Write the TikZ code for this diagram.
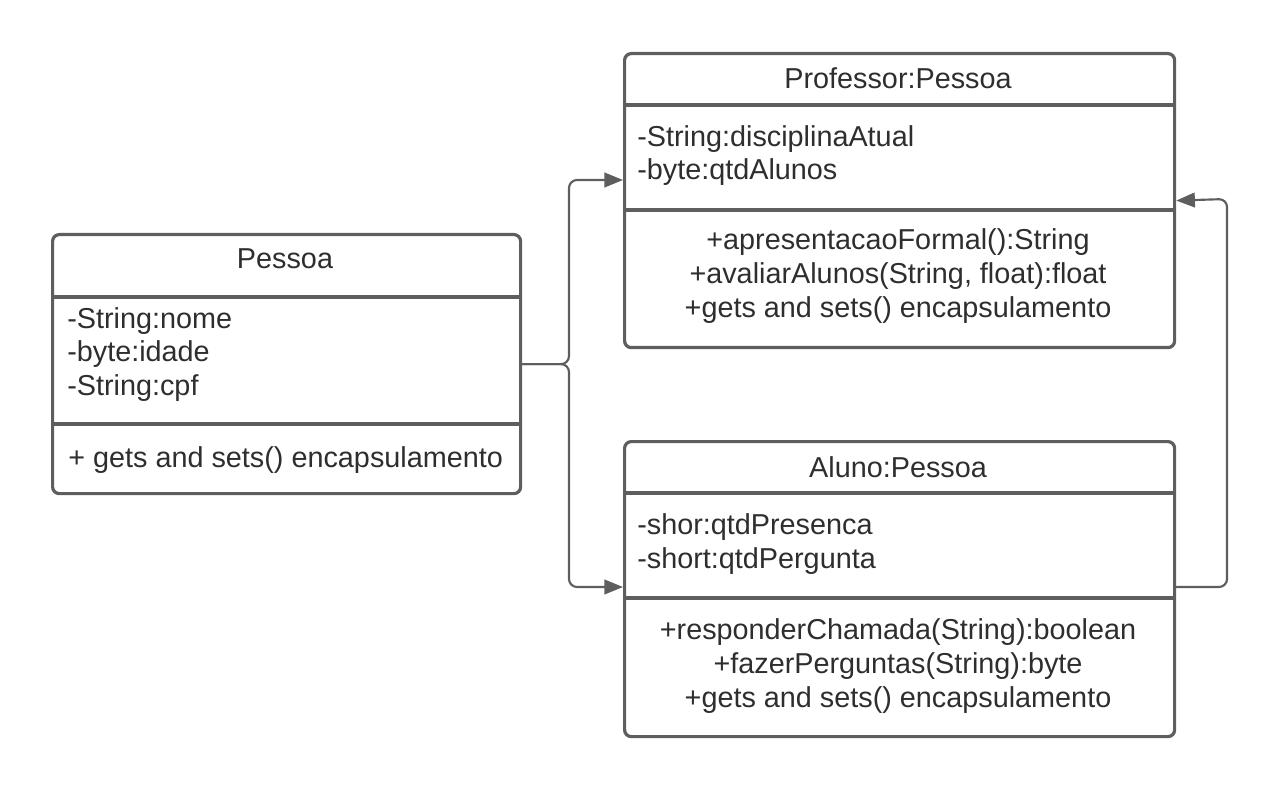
\documentclass[tikz,border=0pt]{standalone}
\usepackage{fontspec}
\setmainfont{Liberation Sans}
\usetikzlibrary{arrows.meta}
\definecolor{ln}{HTML}{5E5E5E}
\definecolor{tx}{HTML}{2E2E2E}
\begin{document}
\begin{tikzpicture}[x=0.75pt,y=-0.75pt,
  box/.style={draw=ln,line width=2.4pt,rounded corners=5pt,anchor=north west,inner sep=0pt},
  sep/.style={draw=ln,line width=2.4pt},
  txt/.style={text=tx,font=\fontsize{21.6}{26}\selectfont,inner sep=0pt},
  lt/.style={txt,anchor=west},
  ct/.style={txt,anchor=center},
  conn/.style={draw=ln,line width=1.6pt,rounded corners=6pt,-{Triangle[length=14pt,width=11pt]}}]
\useasboundingbox (0,0) rectangle (1280,787);
% Pessoa
\node[box,minimum width=351pt,minimum height=194.25pt] (pessoa) at (51,233) {};
\draw[sep] (51,297) -- (519,297);
\draw[sep] (51,424) -- (519,424);
\node[ct] (pt) at (285,259) {Pessoa};
\node[lt] (pa1) at (67,321) {-String:nome};
\node[lt] (pa2) at (67,354) {-byte:idade};
\node[lt] (pa3) at (67,388) {-String:cpf};
\node[lt] (pm1) at (68,460) {+ gets and sets() encapsulamento};
% Professor
\node[box,minimum width=412.5pt,minimum height=220.5pt] (prof) at (623,52) {};
\draw[sep] (623,105) -- (1173,105);
\draw[sep] (623,210) -- (1173,210);
\node[ct] (prt) at (898,78) {Professor:Pessoa};
\node[lt] (pra1) at (637,139) {-String:disciplinaAtual};
\node[lt] (pra2) at (637,172) {-byte:qtdAlunos};
\node[ct] (prm1) at (898,242) {+apresentacaoFormal():String};
\node[ct] (prm2) at (898,276) {+avaliarAlunos(String, float):float};
\node[ct] (prm3) at (898,310) {+gets and sets() encapsulamento};
% Aluno
\node[box,minimum width=412.5pt,minimum height=221.25pt] (aluno) at (623,440) {};
\draw[sep] (623,493) -- (1173,493);
\draw[sep] (623,598) -- (1173,598);
\node[ct] (at) at (898,467) {Aluno:Pessoa};
\node[lt] (aa1) at (637,527) {-shor:qtdPresenca};
\node[lt] (aa2) at (637,561) {-short:qtdPergunta};
\node[ct] (am1) at (898,632) {+responderChamada(String):boolean};
\node[ct] (am2) at (898,666) {+fazerPerguntas(String):byte};
\node[ct] (am3) at (898,700) {+gets and sets() encapsulamento};
% connectors
\coordinate (jt) at (569,180);
\coordinate (jb) at (569,587);
\coordinate (rt) at (1227,199);
\draw[conn] (pessoa.east) -| (jt) -- (prof.west |- jt);
\draw[conn] (pessoa.east) -| (jb) -- (aluno.west |- jb);
\draw[conn] (aluno.east |- jb) -| (rt) -- (prof.east);
\end{tikzpicture}
\end{document}
